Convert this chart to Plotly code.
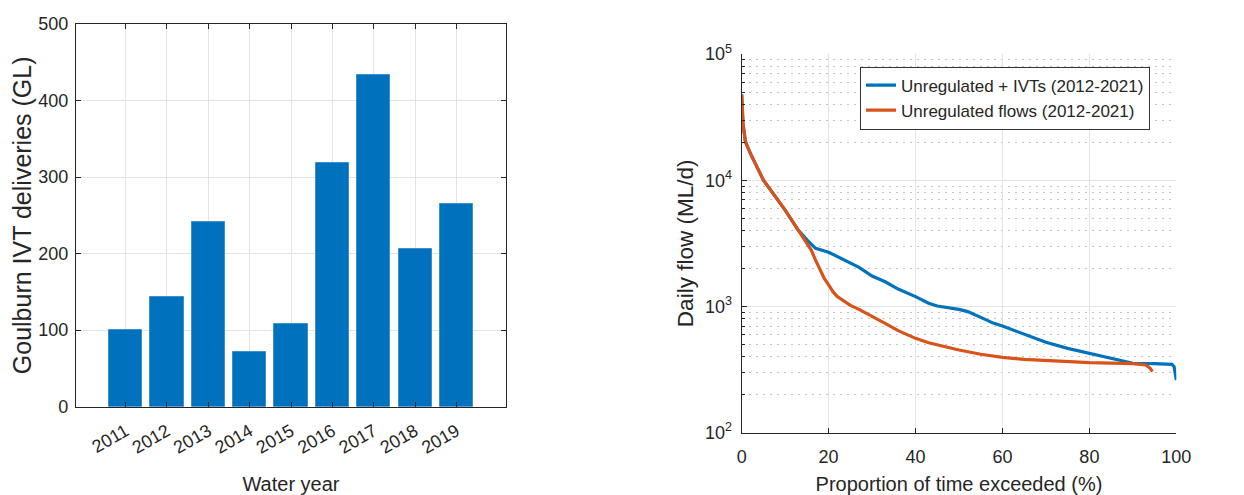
import plotly.graph_objects as go

# ---------------- data ----------------
years = [2011, 2012, 2013, 2014, 2015, 2016, 2017, 2018, 2019]
ivt_deliveries = [100, 143, 241, 71, 108, 319, 433, 206, 265]

ivt_x = [0, 0.3, 0.8, 1, 2, 5, 10, 13, 15, 17, 20, 22, 25, 27, 30, 33, 36, 40, 43,
         45, 50, 52, 55, 58, 60, 65, 70, 75, 80, 85, 88, 90, 95, 98, 99, 99.5, 100]
ivt_flow = [47500, 28200, 20800, 19600, 16300, 10000, 5800, 4030, 3370, 2890, 2690,
            2480, 2200, 2043, 1743, 1570, 1374, 1196, 1060, 1009, 949, 910, 820, 735,
            700, 605, 520, 466, 425, 388, 365, 355, 352, 352, 348, 333, 261]

unreg_x = [0, 0.3, 0.8, 1, 2, 5, 10, 13, 15, 16, 17, 18, 19, 20, 21, 22, 24, 25, 27,
           30, 33, 36, 40, 43, 46, 50, 55, 60, 65, 70, 75, 80, 85, 90, 93, 94, 94.5]
unreg_flow = [48000, 28200, 20800, 19600, 16300, 10000, 5800, 4030, 3170, 2800, 2330,
              1945, 1670, 1480, 1310, 1197, 1072, 1021, 948, 840, 735, 643, 559, 516,
              486, 452, 418, 395, 381, 372, 363, 359, 356, 352, 344, 324, 305]

bar_ticks = [0, 100, 200, 300, 400, 500]
flow_ticks = [100, 1000, 10000, 100000]
flow_ticktext = ["10<sup>2</sup>", "10<sup>3</sup>", "10<sup>4</sup>", "10<sup>5</sup>"]
pct_ticks = [0, 20, 40, 60, 80, 100]

# ---------------- styling ----------------
TXT = "#262626"
GRID = "#e3e3e3"
FONT = "Liberation Sans, Arial, sans-serif"
BLUE = "#0072BD"
ORANGE = "#D95319"

# page has an 8px body margin: figure is 1236x487, offset by 8px
W, H, OFF = 1236, 487, 8


def X(px):
    return (px - OFF) / W


def Y(py):
    return 1 - (py - OFF) / H


minor_vals = [m * 10 ** e for e in (2, 3, 4) for m in range(2, 10)]

fig = go.Figure()

fig.add_trace(go.Bar(
    x=years, y=ivt_deliveries, width=0.8,
    marker=dict(color=BLUE, line=dict(color="#3d8fd0", width=1)),
    xaxis="x", yaxis="y", showlegend=False,
))

fig.add_trace(go.Scatter(
    x=ivt_x, y=ivt_flow, mode="lines", name="Unregulated + IVTs (2012-2021)",
    line=dict(color=BLUE, width=3.2), xaxis="x2", yaxis="y2",
))
fig.add_trace(go.Scatter(
    x=unreg_x, y=unreg_flow, mode="lines", name="Unregulated flows (2012-2021)",
    line=dict(color=ORANGE, width=3.2), xaxis="x2", yaxis="y2",
))

axis_common = dict(
    showline=True, linecolor=TXT, linewidth=1.3,
    ticks="inside", ticklen=5, tickcolor=TXT, tickwidth=1.3,
    tickfont=dict(size=18, color=TXT, family=FONT),
    showgrid=True, gridcolor=GRID, gridwidth=1,
    zeroline=False, automargin=False,
)

fig.update_layout(
    width=W, height=H,
    margin=dict(l=0, r=0, t=0, b=0),
    paper_bgcolor="white", plot_bgcolor="white",
    font=dict(family=FONT, color=TXT),
    bargap=0,
    xaxis=dict(
        **axis_common, domain=[X(76), X(506)], anchor="y",
        range=[2009.8, 2020.2], tickvals=years, tickangle=-30, mirror="ticks",
        ticklabelstandoff=6,
        title=dict(text="Water year", font=dict(size=20, color=TXT), standoff=20),
    ),
    yaxis=dict(
        **axis_common, domain=[Y(406.7), Y(24)], anchor="x",
        range=[0, 500], tickvals=bar_ticks, mirror="ticks",
        ticklabelstandoff=3,
        title=dict(text="Goulburn IVT deliveries (GL)", font=dict(size=25, color=TXT), standoff=5),
    ),
    xaxis2=dict(
        **axis_common, domain=[X(741.7), X(1176.3)], anchor="y2",
        range=[0, 100], tickvals=pct_ticks, ticklabelstandoff=8,
        title=dict(text="Proportion of time exceeded (%)", font=dict(size=20, color=TXT), standoff=10),
    ),
    yaxis2=dict(
        **axis_common, domain=[Y(432.7), Y(54)], anchor="x2",
        type="log", range=[2, 5], tickvals=flow_ticks, ticktext=flow_ticktext,
        ticklabelstandoff=5,
        minor=dict(tickvals=minor_vals, ticks="inside", ticklen=3, tickcolor=TXT,
                   showgrid=True, gridcolor="#c4c4c4", griddash="2px,5px", gridwidth=1),
        title=dict(text="Daily flow (ML/d)", font=dict(size=22.5, color=TXT), standoff=5),
    ),
    legend=dict(
        x=X(860), y=Y(66.5), xanchor="left", yanchor="top",
        bgcolor="white", bordercolor="#333333", borderwidth=1,
        font=dict(size=17, color=TXT, family=FONT),
        tracegroupgap=0, itemwidth=30,
    ),
)

fig.write_html("out.html")
